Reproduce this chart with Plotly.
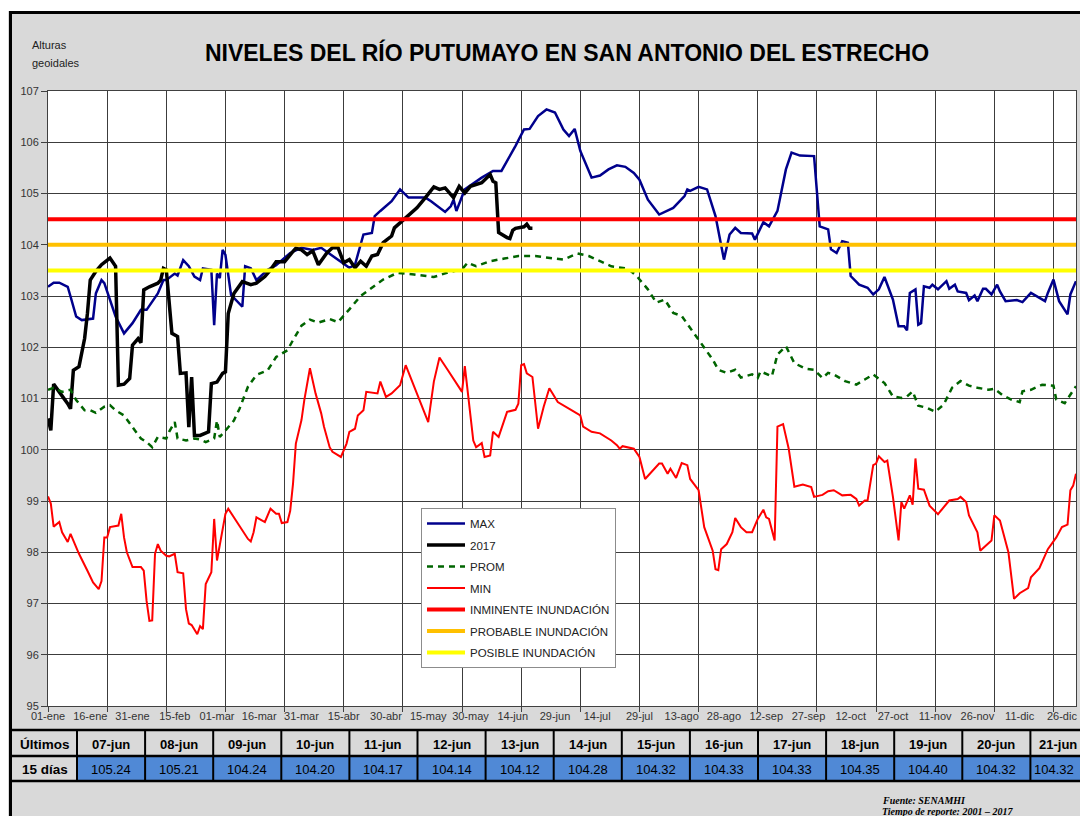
import plotly.graph_objects as go

# ---------------- data ----------------
x_tick_dias = [0, 15, 30, 45, 60, 75, 90, 105, 120, 135, 150, 165, 180, 195, 210,
               225, 240, 255, 270, 285, 300, 315, 330, 345, 360]
x_tick_labels = ["01-ene", "16-ene", "31-ene", "15-feb", "01-mar", "16-mar", "31-mar",
                 "15-abr", "30-abr", "15-may", "30-may", "14-jun", "29-jun", "14-jul",
                 "29-jul", "13-ago", "28-ago", "12-sep", "27-sep", "12-oct", "27-oct",
                 "11-nov", "26-nov", "11-dic", "26-dic"]

max_dias = [0, 2, 4, 7, 8, 10, 12, 16, 17, 19, 20, 23, 24, 27, 30, 33, 35, 39, 41, 42, 45, 46, 48, 50,
            52, 54, 55, 58, 59, 60, 61, 62, 63, 65, 69, 70, 72, 74, 78, 81, 86, 90, 94, 97, 101, 107,
            109, 112, 115, 116, 118, 122, 125, 128, 134, 136, 141, 143, 144, 145, 148, 154, 158, 161,
            166, 169, 171, 174, 177, 180, 183, 185, 187, 189, 193, 196, 199, 202, 205, 208, 210, 213,
            217, 222, 226, 227, 228, 231, 234, 237, 240, 242, 244, 246, 250, 251, 254, 256, 259, 262,
            264, 267, 272, 274, 277, 278, 280, 282, 284, 285, 288, 291, 293, 295, 297, 300, 302, 304,
            305, 306, 308, 309, 310, 311, 313, 314, 316, 319, 320, 322, 323, 326, 327, 329, 330, 332,
            333, 335, 337, 338, 340, 344, 346, 348, 349, 354, 355, 357, 359, 362, 363, 365]
max_vals = [103.18, 103.26, 103.26, 103.18, 102.99, 102.6, 102.53, 102.56, 103.05, 103.31, 103.25,
            102.73, 102.6, 102.27, 102.47, 102.73, 102.73, 103.05, 103.31, 103.31, 103.44, 103.4,
            103.7, 103.58, 103.38, 103.31, 103.54, 103.51, 102.43, 103.44, 103.35, 103.9, 103.8,
            103.02, 102.79, 103.58, 103.54, 103.31, 103.51, 103.6, 103.84, 103.94, 103.9, 103.94,
            103.78, 103.55, 103.61, 104.2, 104.23, 104.56, 104.66, 104.85, 105.08, 104.92, 104.92,
            104.85, 104.64, 104.75, 104.88, 104.66, 105.08, 105.31, 105.44, 105.44, 105.93, 106.25,
            106.26, 106.51, 106.64, 106.58, 106.25, 106.12, 106.26, 105.83, 105.31, 105.35, 105.47,
            105.55, 105.52, 105.4, 105.27, 104.88, 104.59, 104.72, 104.95, 105.08, 105.05, 105.13,
            105.08, 104.56, 103.71, 104.2, 104.33, 104.23, 104.22, 104.1, 104.44, 104.36, 104.66,
            105.47, 105.8, 105.74, 105.73, 104.36, 104.3, 103.91, 103.84, 104.07, 104.04, 103.39,
            103.22, 103.16, 103.03, 103.13, 103.37, 102.93, 102.41, 102.41, 102.33, 103.06, 103.13,
            102.44, 102.47, 103.19, 103.16, 103.22, 103.13, 103.29, 103.14, 103.22, 103.09, 103.06,
            102.92, 103.01, 102.9, 103.14, 103.14, 103.03, 103.22, 103.09, 102.9, 102.92, 102.88,
            103.0, 103.06, 102.9, 103.06, 103.32, 102.9, 102.64, 103.03, 103.29]

y2017_dias = [0, 1, 2, 4, 5, 7, 8, 9, 11, 13, 14, 15, 17, 19, 22, 24, 25, 27, 29, 30, 32, 33, 34, 36,
              39, 40, 41, 42, 44, 46, 47, 49, 50, 51, 52, 54, 57, 58, 60, 62, 63, 64, 66, 69, 72, 74,
              77, 79, 81, 84, 87, 88, 90, 92, 94, 96, 99, 101, 103, 105, 107, 109, 111, 113, 115, 117,
              119, 122, 123, 125, 128, 131, 134, 137, 139, 141, 144, 146, 148, 150, 154, 155, 157]
y2017_vals = [100.61, 100.38, 101.28, 101.13, 101.06, 100.9, 100.8, 101.55, 101.62, 102.17, 102.66,
              103.31, 103.48, 103.61, 103.74, 103.58, 101.26, 101.28, 101.39, 102.04, 102.17, 102.09,
              103.12, 103.18, 103.25, 103.31, 103.54, 103.51, 102.27, 102.21, 101.49, 101.5, 100.44,
              101.42, 100.28, 100.28, 100.35, 101.29, 101.32, 101.49, 101.52, 102.66, 103.05, 103.28,
              103.22, 103.25, 103.38, 103.51, 103.67, 103.67, 103.87, 103.93, 103.9, 103.81, 103.88,
              103.61, 103.84, 103.94, 103.94, 103.65, 103.71, 103.55, 103.68, 103.58, 103.78, 103.81,
              104.04, 104.17, 104.33, 104.43, 104.56, 104.72, 104.92, 105.13, 105.08, 105.11, 104.92,
              105.14, 105.01, 105.14, 105.21, 105.27, 105.37]

# últimos 15 días (tabla) -> also the end of the 2017 series
ult_dias = [158, 159, 160, 161, 162, 163, 164, 165, 166, 167, 168, 169, 170, 171, 172]
ult_fechas = ["07-jun", "08-jun", "09-jun", "10-jun", "11-jun", "12-jun", "13-jun", "14-jun",
              "15-jun", "16-jun", "17-jun", "18-jun", "19-jun", "20-jun", "21-jun"]
ult_valores = [105.24, 105.21, 104.24, 104.20, 104.17, 104.14, 104.12, 104.28, 104.32, 104.33,
               104.33, 104.35, 104.40, 104.32, 104.32]

prom_dias = [0, 2, 5, 8, 10, 13, 15, 17, 20, 22, 24, 27, 30, 33, 35, 37, 39, 42, 43, 45, 46, 49, 52,
             54, 56, 59, 60, 61, 64, 66, 68, 71, 74, 78, 81, 85, 87, 90, 93, 96, 100, 103, 107, 111,
             115, 119, 124, 130, 137, 142, 147, 149, 152, 157, 162, 167, 173, 179, 183, 188, 192,
             196, 200, 206, 209, 213, 216, 219, 222, 225, 228, 232, 236, 238, 241, 244, 246, 250,
             252, 253, 257, 259, 262, 265, 269, 272, 275, 277, 279, 283, 287, 290, 293, 297, 300,
             303, 305, 307, 309, 312, 315, 318, 321, 324, 327, 330, 334, 336, 339, 342, 345, 346,
             349, 353, 357, 358, 361, 365]
prom_vals = [101.17, 101.21, 101.13, 101.17, 100.97, 100.77, 100.77, 100.72, 100.84, 100.87, 100.77,
             100.67, 100.44, 100.22, 100.15, 100.05, 100.25, 100.22, 100.35, 100.54, 100.22, 100.18,
             100.22, 100.2, 100.15, 100.22, 100.57, 100.25, 100.44, 100.57, 100.8, 101.23, 101.46,
             101.55, 101.81, 101.94, 102.14, 102.42, 102.54, 102.48, 102.55, 102.49, 102.74, 103.0,
             103.16, 103.32, 103.45, 103.42, 103.37, 103.46, 103.52, 103.65, 103.58, 103.68, 103.73,
             103.78, 103.78, 103.73, 103.71, 103.83, 103.78, 103.68, 103.58, 103.53, 103.39, 103.13,
             102.87, 102.93, 102.67, 102.61, 102.38, 102.08, 101.76, 101.56, 101.5, 101.56, 101.41,
             101.47, 101.4, 101.53, 101.43, 101.86, 102.02, 101.69, 101.58, 101.56, 101.4, 101.5,
             101.47, 101.34, 101.27, 101.37, 101.47, 101.3, 101.04, 101.01, 101.04, 101.14, 100.86,
             100.82, 100.74, 100.88, 101.21, 101.34, 101.25, 101.21, 101.17, 101.19, 101.06, 100.98,
             100.93, 101.14, 101.17, 101.27, 101.25, 100.98, 100.91, 101.24]

min_dias = [0, 1, 2, 4, 5, 7, 8, 9, 11, 14, 16, 18, 19, 20, 21, 22, 24, 25, 26, 27, 28, 30, 33, 34,
            35, 36, 37, 38, 39, 40, 42, 43, 45, 46, 48, 49, 50, 51, 53, 54, 55, 56, 58, 59, 60, 62,
            63, 64, 66, 68, 71, 72, 73, 74, 77, 79, 81, 82, 83, 85, 86, 87, 88, 90, 91, 93, 95, 97,
            98, 100, 101, 104, 106, 107, 109, 110, 112, 113, 116, 117, 118, 120, 122, 125, 127, 131,
            135, 137, 139, 142, 145, 147, 148, 151, 152, 154, 155, 157, 158, 160, 163, 166, 167, 168,
            169, 170, 172, 174, 176, 178, 181, 183, 186, 189, 190, 193, 196, 200, 202, 203, 204, 208,
            210, 212, 217, 218, 220, 221, 223, 225, 227, 228, 231, 233, 236, 237, 238, 239, 241, 243,
            244, 246, 248, 250, 252, 254, 255, 256, 258, 259, 261, 263, 265, 268, 271, 272, 275, 277,
            279, 282, 285, 287, 288, 290, 291, 293, 294, 295, 297, 298, 300, 302, 303, 304, 306, 307,
            308, 309, 311, 313, 316, 317, 320, 323, 324, 326, 327, 330, 331, 335, 336, 338, 341, 343,
            345, 348, 349, 352, 355, 358, 360, 362, 363, 364, 365]
min_vals = [99.09, 98.95, 98.5, 98.59, 98.39, 98.2, 98.36, 98.23, 97.97, 97.64, 97.41, 97.28, 97.44,
            98.29, 98.29, 98.49, 98.52, 98.52, 98.75, 98.29, 98.0, 97.71, 97.71, 97.64, 97.05, 96.66,
            96.67, 97.97, 98.16, 98.03, 97.93, 97.92, 97.97, 97.61, 97.59, 96.89, 96.61, 96.58, 96.4,
            96.56, 96.5, 97.38, 97.61, 98.65, 97.84, 98.42, 98.75, 98.85, 98.68, 98.49, 98.26, 98.21,
            98.39, 98.68, 98.59, 98.85, 98.75, 98.75, 98.57, 98.59, 98.81, 99.34, 100.12, 100.58,
            100.97, 101.59, 101.1, 100.71, 100.45, 100.05, 99.96, 99.86, 100.12, 100.35, 100.41,
            100.67, 100.77, 101.13, 101.11, 101.1, 101.33, 101.03, 101.1, 101.26, 101.65, 101.1,
            100.54, 101.33, 101.8, 101.55, 101.29, 101.13, 101.63, 100.18, 100.05, 100.13, 99.86,
            99.89, 100.35, 100.25, 100.74, 100.78, 100.9, 101.65, 101.67, 101.49, 101.42, 100.41,
            100.84, 101.2, 100.93, 100.87, 100.77, 100.67, 100.45, 100.35, 100.32, 100.18, 100.09,
            100.02, 100.07, 100.02, 99.86, 99.43, 99.73, 99.73, 99.53, 99.63, 99.45, 99.74, 99.7,
            99.43, 99.21, 98.49, 98.03, 97.67, 97.65, 98.06, 98.16, 98.39, 98.67, 98.49, 98.39,
            98.39, 98.65, 98.83, 98.68, 98.65, 98.23, 100.45, 100.5, 100.02, 99.28, 99.32, 99.27,
            99.08, 99.12, 99.19, 99.21, 99.11, 99.12, 99.04, 98.91, 99.01, 99.01, 99.7, 99.73, 99.87,
            99.76, 99.79, 99.08, 98.23, 98.98, 98.85, 99.11, 98.93, 99.83, 99.24, 99.22, 98.91,
            98.74, 98.81, 99.01, 99.04, 99.08, 98.98, 98.72, 98.39, 98.03, 98.23, 98.72, 98.62, 98.0,
            97.09, 97.2, 97.3, 97.51, 97.69, 98.06, 98.29, 98.49, 98.54, 99.21, 99.3, 99.53]

umbral_nombres = ["INMINENTE INUNDACIÓN", "PROBABLE INUNDACIÓN", "POSIBLE INUNDACIÓN"]
umbral_valores = [104.5, 104.0, 103.5]
umbral_colores = ["#FF0000", "#FFC000", "#FFFF00"]

X_MAX = 365
# page is offset by the 8px default body margin
O = 8
W, H = 1088 - O, 816 - O
PL, PT, PR, PB = 48, 91, 1076, 706          # plot area in page pixels
L, T = PL - O, PT - O
R, B = W - (PR - O), H - (PB - O)
PW, PH = PR - PL, PB - PT


def px2x(p):
    return (p - PL) / PW


def py2y(p):
    return (PB - p) / PH


fig = go.Figure()

fig.add_trace(go.Scatter(x=max_dias, y=max_vals, mode="lines", name="MAX", legendgroup="a",
                         line=dict(color="#00008C", width=2.5)))
fig.add_trace(go.Scatter(x=y2017_dias + ult_dias, y=y2017_vals + ult_valores, mode="lines",
                         name="2017", legendgroup="b", line=dict(color="#000000", width=3.5)))
fig.add_trace(go.Scatter(x=prom_dias, y=prom_vals, mode="lines", name="PROM", legendgroup="c",
                         line=dict(color="#006400", width=2.5, dash="6px,5px")))
fig.add_trace(go.Scatter(x=min_dias, y=min_vals, mode="lines", name="MIN", legendgroup="d",
                         line=dict(color="#FF0000", width=2)))
for i, (nm, v, c) in enumerate(zip(umbral_nombres, umbral_valores, umbral_colores)):
    fig.add_trace(go.Scatter(x=[0, X_MAX], y=[v, v], mode="lines", name=nm, legendgroup="e%d" % i,
                             line=dict(color=c, width=4)))

grid_col = "#3C3C3C"
SANS = "Liberation Sans, Arial, sans-serif"
fig.update_xaxes(range=[0, X_MAX], tickmode="array", tickvals=x_tick_dias, ticktext=x_tick_labels,
                 showgrid=False, ticks="", zeroline=False,
                 tickfont=dict(family=SANS, size=11, color="#333333"),
                 showline=True, linecolor="#404040", linewidth=1, mirror=True,
                 minor=dict(tickmode="linear", tick0=0, dtick=21, showgrid=True, gridcolor=grid_col,
                            gridwidth=1, ticks="outside", ticklen=5, tickcolor="#404040"))
fig.update_yaxes(range=[95, 107], dtick=1, showgrid=True, gridcolor=grid_col, gridwidth=1,
                 zeroline=False, ticks="outside", ticklen=6, tickcolor="#404040",
                 tickfont=dict(family=SANS, size=11, color="#333333"),
                 showline=True, linecolor="#404040", linewidth=1, mirror=True)

shapes = []
ann = []
BG = "#D9D9D9"
# white strip above the black frame
shapes.append(dict(type="rect", xref="paper", yref="paper", x0=px2x(0), x1=px2x(1100), y0=py2y(0),
                   y1=py2y(11), fillcolor="white", line=dict(width=0), layer="below"))
# black frame
shapes.append(dict(type="line", xref="paper", yref="paper", x0=px2x(9), x1=px2x(1100), y0=py2y(12.5),
                   y1=py2y(12.5), line=dict(color="black", width=3)))
shapes.append(dict(type="line", xref="paper", yref="paper", x0=px2x(10.5), x1=px2x(10.5),
                   y0=py2y(11), y1=py2y(830), line=dict(color="black", width=3)))


def add_text(px, py, text, font, xanchor="center"):
    ann.append(dict(x=px2x(px), y=py2y(py), text=text, showarrow=False, xref="paper", yref="paper",
                    xanchor=xanchor, yanchor="middle", font=font))


# table
tab_top, tab_mid, tab_bot = 730, 756, 781
col0_l, col0_r, cw = 10, 77, 68.1
for i, (f, v) in enumerate(zip(ult_fechas, ult_valores)):
    xl = col0_r + i * cw
    xr = xl + cw
    shapes.append(dict(type="rect", xref="paper", yref="paper", x0=px2x(xl), x1=px2x(xr),
                       y0=py2y(tab_mid), y1=py2y(tab_bot), fillcolor="#5089D6",
                       line=dict(width=0), layer="below"))
    shapes.append(dict(type="line", xref="paper", yref="paper", x0=px2x(xr), x1=px2x(xr),
                       y0=py2y(tab_top), y1=py2y(tab_bot), line=dict(color="black", width=2)))
    add_text(min((xl + xr) / 2, 1058), (tab_top + tab_mid) / 2 + 1, f,
             dict(family=SANS, size=13, color="black", weight="bold"))
    add_text(min((xl + xr) / 2, 1054), (tab_mid + tab_bot) / 2 + 1, "%.2f" % v,
             dict(family=SANS, size=13, color="black"))
shapes.append(dict(type="line", xref="paper", yref="paper", x0=px2x(col0_r), x1=px2x(col0_r),
                   y0=py2y(tab_top), y1=py2y(tab_bot), line=dict(color="black", width=2)))
for yy in [tab_top, tab_mid, tab_bot]:
    shapes.append(dict(type="line", xref="paper", yref="paper", x0=px2x(9), x1=px2x(1100),
                       y0=py2y(yy), y1=py2y(yy), line=dict(color="black", width=2.5)))
add_text((col0_l + col0_r) / 2 + 1, (tab_top + tab_mid) / 2 + 1, "Últimos",
         dict(family=SANS, size=13.5, color="black", weight="bold"))
add_text((col0_l + col0_r) / 2 + 1, (tab_mid + tab_bot) / 2 + 1, "15 días",
         dict(family=SANS, size=13.5, color="black", weight="bold"))

# header / footer texts
add_text(30, 45, "Alturas", dict(family=SANS, size=11, color="#222"), "left")
add_text(30, 63, "geoidales", dict(family=SANS, size=11, color="#222"), "left")
add_text(880, 800, "<b><i>Fuente: SENAMHI</i></b>",
         dict(family="Liberation Serif, Times New Roman, serif", size=10, color="black"), "left")
add_text(880, 811, "<b><i>Tiempo de reporte: 2001 – 2017</i></b>",
         dict(family="Liberation Serif, Times New Roman, serif", size=10, color="black"), "left")

fig.update_layout(
    width=W, height=H,
    margin=dict(l=L, r=R, t=T, b=B, pad=0),
    paper_bgcolor=BG, plot_bgcolor="white",
    title=dict(text="<b>NIVELES DEL RÍO PUTUMAYO EN SAN ANTONIO DEL ESTRECHO</b>",
               x=(567 - O) / W, y=1 - (53 - O) / H, xanchor="center", yanchor="middle",
               xref="container", yref="container",
               font=dict(family=SANS, size=23, color="black")),
    showlegend=True,
    legend=dict(x=px2x(421), y=py2y(508), xanchor="left", yanchor="top", bgcolor="white",
                bordercolor="#8C8C8C", borderwidth=1, tracegroupgap=2.5, itemwidth=38,
                font=dict(family=SANS, size=11.5, color="#222")),
    shapes=shapes, annotations=ann,
)

fig.write_html("out.html")
